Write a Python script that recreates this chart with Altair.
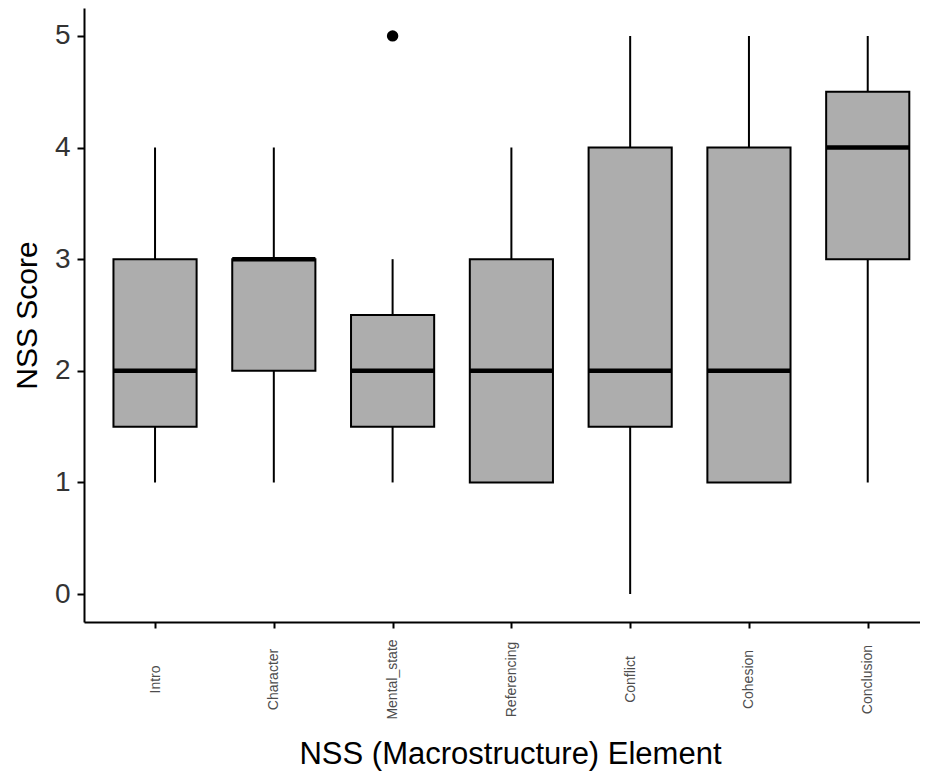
import altair as alt
import pandas as pd

categories = ["Intro", "Character", "Mental_state", "Referencing", "Conflict", "Cohesion", "Conclusion"]
lower = [1, 1, 1, 1, 0, 1, 1]
q1 = [1.5, 2, 1.5, 1, 1.5, 1, 3]
median = [2, 3, 2, 2, 2, 2, 4]
q3 = [3, 3, 2.5, 3, 4, 4, 4.5]
upper = [4, 4, 3, 4, 5, 5, 5]

outlier_cat = ["Mental_state"]
outlier_val = [5]

idx = list(range(1, len(categories) + 1))
df = pd.DataFrame({"element": categories, "pos": idx, "lower": lower, "q1": q1,
                   "median": median, "q3": q3, "upper": upper})
out = pd.DataFrame({"element": outlier_cat,
                    "pos": [categories.index(c) + 1 for c in outlier_cat],
                    "score": outlier_val})

FONT = "Liberation Sans"
HALF = 0.35

label_expr = "[" + ",".join("'%s'" % c for c in categories) + "][datum.value - 1]"

xscale = alt.Scale(domain=[0.402, 7.44], nice=False, zero=False)
xaxis = alt.Axis(title="NSS (Macrostructure) Element", values=idx, labelExpr=label_expr,
                 labelAngle=270, labelAlign="center", labelBaseline="middle",
                 labelFontSize=14, labelColor="#4D4D4D", labelPadding=51,
                 tickSize=6, titleFontSize=31, titlePadding=20, titleX=426,
                 titleFontWeight="normal", titleColor="#000000", grid=False,
                 labelOverlap=False, labelFlush=False)
yscale = alt.Scale(domain=[-0.25, 5.25], nice=False, zero=False)
yaxis = alt.Axis(title="NSS Score", values=[0, 1, 2, 3, 4, 5], format="d",
                 labelFontSize=28, labelColor="#333333", labelPadding=7, tickSize=7,
                 titleFontSize=30, titlePadding=12, titleFontWeight="normal",
                 titleColor="#000000", grid=False)

base = alt.Chart(df).transform_calculate(
    xl="datum.pos - %f" % HALF, xr="datum.pos + %f" % HALF)

whisk = base.mark_rule(color="black", strokeWidth=2).encode(
    x=alt.X("pos:Q", scale=xscale, axis=xaxis),
    y=alt.Y("lower:Q", scale=yscale, axis=yaxis), y2="upper:Q")
box = base.mark_rect(color="#ADADAD", stroke="black", strokeWidth=2).encode(
    x=alt.X("xl:Q", scale=xscale, axis=xaxis), x2="xr:Q",
    y=alt.Y("q1:Q", scale=yscale, axis=yaxis), y2="q3:Q")
med = base.mark_rule(color="black", strokeWidth=4.5).encode(
    x=alt.X("xl:Q", scale=xscale, axis=xaxis), x2="xr:Q",
    y=alt.Y("median:Q", scale=yscale, axis=yaxis))
pts = alt.Chart(out).mark_circle(color="black", size=130, opacity=1).encode(
    x=alt.X("pos:Q", scale=xscale, axis=xaxis),
    y=alt.Y("score:Q", scale=yscale, axis=yaxis))

chart = alt.layer(whisk, box, med, pts).properties(
    width=836, height=614,
    autosize=alt.AutoSizeParams(type="none"),
    padding={"left": 76, "top": 0, "right": 0, "bottom": 150},
).configure_view(stroke=None).configure_axis(
    domainColor="black", domainWidth=2, tickColor="black", tickWidth=2,
    labelFont=FONT, titleFont=FONT, grid=False,
)

chart.save("out.html", embed_options={"renderer": "svg", "actions": False})
